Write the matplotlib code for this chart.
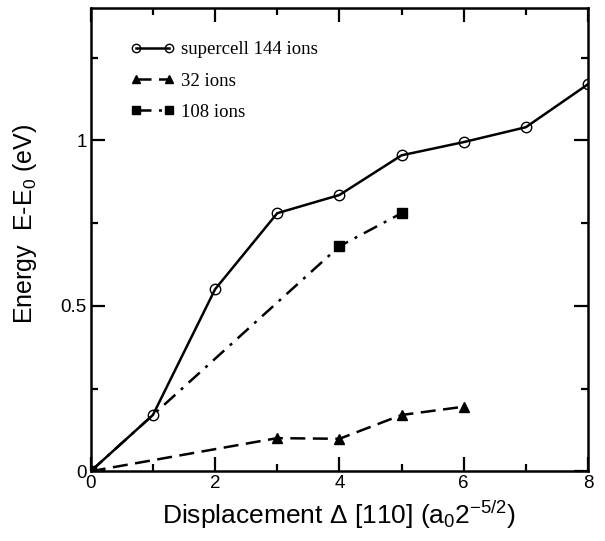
import matplotlib
matplotlib.use("Agg")
import matplotlib.pyplot as plt
from matplotlib.ticker import MultipleLocator

# supercell 144 ions
disp_144 = [0, 1, 2, 3, 4, 5, 6, 7, 8]
energy_144 = [0, 0.17, 0.55, 0.78, 0.835, 0.955, 0.995, 1.04, 1.17]

# 32 ions
disp_32 = [0, 3, 4, 5, 6]
energy_32 = [0, 0.10, 0.098, 0.17, 0.195]

# 108 ions
disp_108 = [0, 4, 5]
energy_108 = [0, 0.68, 0.78]

plt.rcParams['font.family'] = ['Liberation Sans', 'DejaVu Sans']
plt.rcParams['mathtext.fontset'] = 'custom'
plt.rcParams['mathtext.rm'] = 'Liberation Sans'
plt.rcParams['mathtext.it'] = 'Liberation Sans'

fig = plt.figure(figsize=(6.05, 5.41), dpi=100)
ax = fig.add_axes([0.150, 0.129, 0.822, 0.856])

ax.plot(disp_144, energy_144, '-', color='black', lw=1.8, marker='o',
        ms=7.5, mfc='none', mec='black', mew=1.0, label='supercell 144 ions', zorder=3)
ax.plot(disp_32, energy_32, color='black', lw=1.8, ls=(0, (6, 3)), marker='^',
        ms=7.5, label='32 ions', zorder=3)
ax.plot(disp_108, energy_108, color='black', lw=1.8, ls=(0, (6, 3, 1.2, 3)), marker='s',
        ms=7, label='108 ions', zorder=4)

ax.set_xlim(0, 8)
ax.set_ylim(0, 1.4)
ax.xaxis.set_major_locator(MultipleLocator(2))
ax.xaxis.set_minor_locator(MultipleLocator(1))
ax.yaxis.set_minor_locator(MultipleLocator(0.25))
ax.set_yticks([0, 0.5, 1])
ax.set_yticklabels(['0', '0.5', '1'])
ax.tick_params(which='both', direction='in', top=True, right=True, width=1.6, labelsize=13.5)
ax.tick_params(which='major', length=10, pad=3)
ax.tick_params(which='minor', length=5)
for s in ax.spines.values():
    s.set_linewidth(1.8)

ax.set_xlabel(r'Displacement $\Delta$ [110] (a$_0$2$^{-5/2}$)', fontsize=19, labelpad=5)
ax.set_ylabel(r'Energy  E-E$_0$ (eV)', fontsize=18, labelpad=10)
ax.yaxis.set_label_coords(-0.105, 0.535)

leg = ax.legend(loc='upper left', bbox_to_anchor=(0.045, 0.965), frameon=False,
                numpoints=2, handlelength=2.4, handletextpad=0.3, labelspacing=0.75,
                markerscale=0.8, prop={'family': 'Liberation Serif', 'size': 13.5})

fig.savefig('out.png', dpi=100)
